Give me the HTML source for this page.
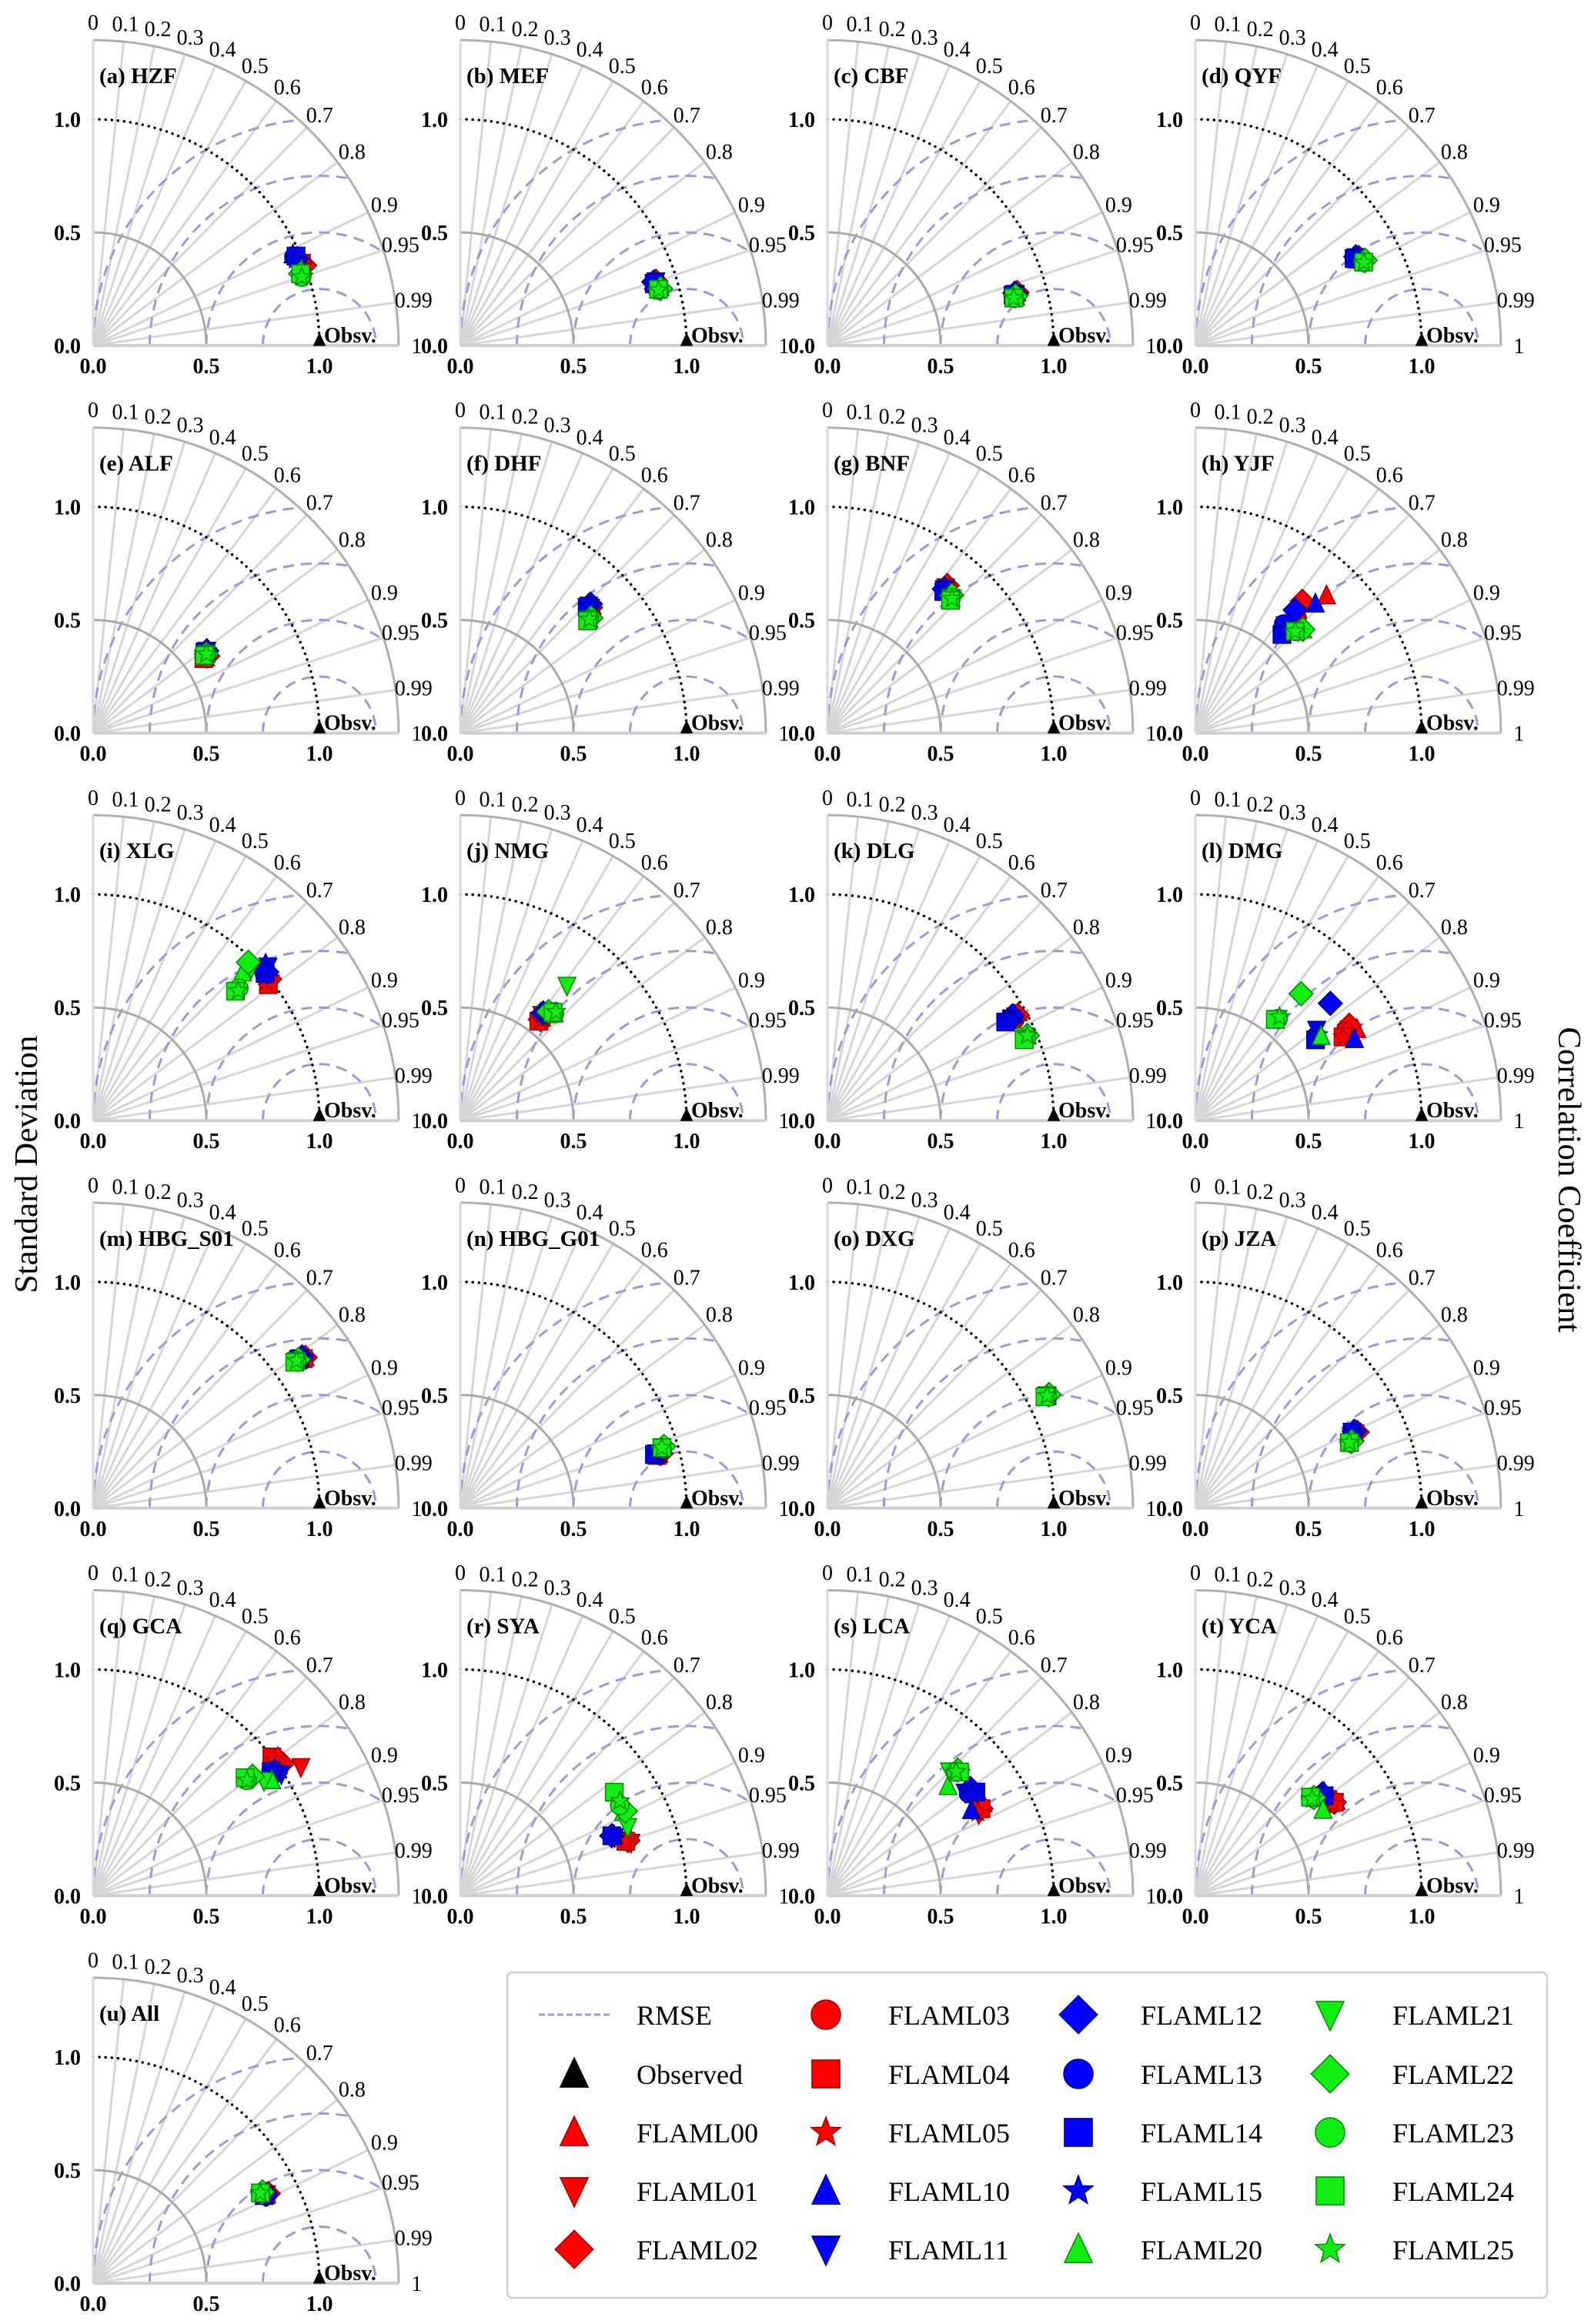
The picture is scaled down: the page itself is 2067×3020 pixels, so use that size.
<!DOCTYPE html>
<html><head><meta charset="utf-8">
<style>
html,body{margin:0;padding:0;background:#fff;}
svg{display:block;font-family:"Liberation Serif",serif;}
</style></head>
<body>
<svg id="fig" xmlns="http://www.w3.org/2000/svg" width="2067" height="3020" viewBox="0 0 2067 3020">
<rect x="0" y="0" width="2067" height="3020" fill="#fff"/>
<text x="0" y="0" font-size="42" text-anchor="middle" transform="translate(48,1513) rotate(-90)" textLength="335" lengthAdjust="spacingAndGlyphs">Standard Deviation</text>
<text x="0" y="0" font-size="42" text-anchor="middle" transform="translate(2025,1533) rotate(90)" textLength="397" lengthAdjust="spacingAndGlyphs">Correlation Coefficient</text>
<g id="panels"></g>
<g id="legend"></g>
</svg>
<script>
const panelNames = ["(a) HZF","(b) MEF","(c) CBF","(d) QYF","(e) ALF","(f) DHF","(g) BNF","(h) YJF","(i) XLG","(j) NMG","(k) DLG","(l) DMG","(m) HBG_S01","(n) HBG_G01","(o) DXG","(p) JZA","(q) GCA","(r) SYA","(s) LCA","(t) YCA","(u) All"];
const modelNames = ["FLAML00","FLAML01","FLAML02","FLAML03","FLAML04","FLAML05","FLAML10","FLAML11","FLAML12","FLAML13","FLAML14","FLAML15","FLAML20","FLAML21","FLAML22","FLAML23","FLAML24","FLAML25"];
const corrTicks = [0,0.1,0.2,0.3,0.4,0.5,0.6,0.7,0.8,0.9,0.95,0.99,1];
const stdTicks = [0.0,0.5,1.0];
const rmseLevels = [0.25,0.5,0.75,1.0];
const stdData = [
[1.00,0.99,1.00,0.99,0.99,0.99, 0.97,0.98,0.98,0.97,0.98,0.97, 0.98,0.97,0.97,0.97,0.97,0.97],
[0.91,0.90,0.91,0.90,0.90,0.90, 0.90,0.91,0.90,0.90,0.90,0.90, 0.92,0.91,0.92,0.91,0.91,0.91],
[0.87,0.86,0.87,0.86,0.86,0.86, 0.86,0.86,0.86,0.86,0.85,0.86, 0.86,0.85,0.86,0.85,0.85,0.85],
[0.82,0.81,0.82,0.81,0.81,0.81, 0.81,0.81,0.81,0.81,0.80,0.81, 0.83,0.83,0.84,0.83,0.83,0.83],
[0.60,0.60,0.61,0.60,0.59,0.60, 0.62,0.62,0.62,0.61,0.61,0.62, 0.61,0.61,0.61,0.61,0.60,0.61],
[0.81,0.80,0.80,0.80,0.79,0.80, 0.80,0.80,0.81,0.80,0.79,0.80, 0.76,0.76,0.77,0.76,0.75,0.76],
[0.83,0.83,0.84,0.83,0.82,0.83, 0.82,0.82,0.82,0.82,0.81,0.82, 0.81,0.81,0.82,0.81,0.80,0.81],
[0.84,0.68,0.75,0.68,0.66,0.67, 0.78,0.62,0.70,0.62,0.58,0.60, 0.66,0.64,0.66,0.63,0.63,0.63],
[1.00,0.99,1.00,0.99,0.98,0.98, 1.03,1.03,1.01,1.00,1.00,1.01, 0.93,0.97,0.98,0.87,0.85,0.86],
[0.58,0.59,0.57,0.57,0.56,0.57, 0.61,0.61,0.60,0.61,0.62,0.61, 0.63,0.76,0.62,0.63,0.63,0.64],
[0.97,0.95,0.96,0.94,0.93,0.94, 0.95,0.93,0.94,0.92,0.90,0.92, 0.96,0.95,0.96,0.95,0.94,0.96],
[0.82,0.79,0.80,0.77,0.75,0.75, 0.79,0.67,0.79,0.65,0.64,0.66, 0.67,0.58,0.73,0.58,0.57,0.59],
[1.15,1.14,1.15,1.14,1.14,1.14, 1.13,1.13,1.14,1.13,1.12,1.13, 1.11,1.11,1.12,1.11,1.10,1.11],
[0.91,0.91,0.92,0.91,0.90,0.91, 0.90,0.90,0.91,0.90,0.89,0.90, 0.93,0.93,0.94,0.93,0.93,0.93],
[1.09,1.09,1.10,1.09,1.09,1.09, 1.09,1.09,1.10,1.09,1.09,1.09, 1.09,1.09,1.10,1.09,1.08,1.09],
[0.78,0.78,0.79,0.78,0.77,0.78, 0.77,0.77,0.78,0.77,0.77,0.77, 0.74,0.74,0.75,0.74,0.74,0.74],
[1.02,1.08,1.02,1.01,1.00,1.00, 0.98,0.99,0.97,0.96,0.96,0.97, 0.94,0.91,0.88,0.85,0.85,0.85],
[0.79,0.79,0.78,0.77,0.77,0.77, 0.73,0.73,0.72,0.72,0.72,0.73, 0.81,0.80,0.82,0.81,0.82,0.82],
[0.80,0.76,0.78,0.77,0.78,0.76, 0.74,0.76,0.79,0.77,0.80,0.78, 0.72,0.77,0.80,0.79,0.80,0.79],
[0.75,0.74,0.74,0.73,0.74,0.73, 0.73,0.72,0.72,0.71,0.72,0.71, 0.68,0.67,0.68,0.67,0.67,0.67],
[0.86,0.86,0.87,0.86,0.86,0.86, 0.85,0.85,0.86,0.85,0.85,0.85, 0.84,0.84,0.85,0.84,0.84,0.84]
];
const corrData = [
[0.925,0.93,0.935,0.93,0.93,0.935, 0.91,0.915,0.92,0.915,0.915,0.92, 0.94,0.945,0.945,0.95,0.945,0.95],
[0.95,0.955,0.95,0.953,0.953,0.955, 0.948,0.95,0.95,0.95,0.952,0.952, 0.96,0.962,0.962,0.963,0.962,0.963],
[0.963,0.965,0.963,0.965,0.965,0.966, 0.963,0.964,0.963,0.964,0.965,0.965, 0.968,0.968,0.967,0.969,0.969,0.969],
[0.88,0.882,0.88,0.882,0.882,0.883, 0.875,0.876,0.875,0.877,0.877,0.877, 0.895,0.896,0.894,0.896,0.896,0.897],
[0.83,0.83,0.83,0.83,0.83,0.83, 0.81,0.81,0.81,0.81,0.81,0.81, 0.82,0.82,0.82,0.82,0.82,0.82],
[0.72,0.72,0.72,0.72,0.72,0.72, 0.71,0.71,0.71,0.71,0.71,0.71, 0.75,0.75,0.75,0.75,0.75,0.75],
[0.63,0.63,0.63,0.63,0.635,0.635, 0.63,0.63,0.63,0.635,0.635,0.635, 0.675,0.675,0.67,0.675,0.68,0.68],
[0.69,0.66,0.63,0.66,0.67,0.67, 0.68,0.64,0.63,0.63,0.66,0.65, 0.72,0.71,0.72,0.70,0.70,0.70],
[0.77,0.79,0.78,0.78,0.79,0.78, 0.74,0.75,0.76,0.755,0.76,0.75, 0.71,0.72,0.70,0.74,0.74,0.745],
[0.62,0.61,0.62,0.63,0.62,0.625, 0.62,0.63,0.61,0.62,0.63,0.62, 0.66,0.62,0.63,0.66,0.65,0.66],
[0.87,0.875,0.875,0.88,0.875,0.875, 0.87,0.875,0.87,0.875,0.875,0.875, 0.92,0.92,0.92,0.925,0.925,0.92],
[0.87,0.86,0.85,0.86,0.87,0.87, 0.89,0.80,0.755,0.82,0.83,0.82, 0.83,0.63,0.64,0.63,0.62,0.63],
[0.815,0.815,0.815,0.815,0.815,0.815, 0.81,0.81,0.81,0.81,0.81,0.81, 0.81,0.81,0.81,0.81,0.81,0.81],
[0.965,0.966,0.965,0.966,0.966,0.966, 0.963,0.963,0.963,0.964,0.964,0.964, 0.957,0.957,0.957,0.958,0.958,0.958],
[0.89,0.89,0.89,0.89,0.89,0.89, 0.89,0.89,0.89,0.89,0.89,0.89, 0.89,0.89,0.89,0.89,0.89,0.89],
[0.905,0.905,0.905,0.905,0.905,0.905, 0.90,0.90,0.90,0.90,0.90,0.90, 0.92,0.92,0.92,0.92,0.92,0.92],
[0.80,0.85,0.82,0.80,0.79,0.80, 0.82,0.84,0.83,0.82,0.82,0.82, 0.84,0.83,0.80,0.80,0.79,0.80],
[0.94,0.955,0.95,0.95,0.95,0.95, 0.93,0.935,0.93,0.93,0.93,0.93, 0.89,0.925,0.89,0.87,0.83,0.86],
[0.86,0.88,0.87,0.87,0.87,0.875, 0.86,0.80,0.80,0.81,0.82,0.82, 0.74,0.70,0.72,0.72,0.73,0.72],
[0.83,0.83,0.83,0.83,0.83,0.83, 0.78,0.79,0.78,0.78,0.79,0.78, 0.83,0.76,0.77,0.76,0.76,0.77],
[0.89,0.89,0.89,0.89,0.89,0.89, 0.89,0.89,0.89,0.89,0.89,0.89, 0.88,0.88,0.88,0.88,0.88,0.88]
];
const shapes = ["tu","td","d","c","s","st"];
const groupColors = [["#ff0000","#a00000"],["#0000ff","#000090"],["#11ee11","#008a00"]];

const NS = "http://www.w3.org/2000/svg";
const U = 294, RMAX = 1.35;
const colX = [121,598,1075,1553];
const rowY0 = 449, rowPitch = 503.6;

function el(tag, attrs, parent){
  const e = document.createElementNS(NS, tag);
  for (const k in attrs) e.setAttribute(k, attrs[k]);
  if (parent) parent.appendChild(e);
  return e;
}
function starPts(cx, cy, R){
  const pts=[]; const r=R*0.42;
  for(let i=0;i<10;i++){const a=-Math.PI/2+i*Math.PI/5;const rr=i%2?r:R;pts.push((cx+rr*Math.cos(a)).toFixed(1)+","+(cy+rr*Math.sin(a)).toFixed(1));}
  return pts.join(" ");
}
function marker(shape, cx, cy, s, fill, stroke, parent){
  let m; const h=s/2;
  if(shape==="tu") m=el("polygon",{points:`${cx},${cy-h*1.1} ${cx-h*0.95},${cy+h*0.9} ${cx+h*0.95},${cy+h*0.9}`},parent);
  else if(shape==="td") m=el("polygon",{points:`${cx},${cy+h*1.1} ${cx-h*0.95},${cy-h*0.9} ${cx+h*0.95},${cy-h*0.9}`},parent);
  else if(shape==="d") m=el("polygon",{points:`${cx},${cy-h*1.3} ${cx+h*1.3},${cy} ${cx},${cy+h*1.3} ${cx-h*1.3},${cy}`},parent);
  else if(shape==="c") m=el("circle",{cx:cx,cy:cy,r:h},parent);
  else if(shape==="s") m=el("rect",{x:cx-h*0.95,y:cy-h*0.95,width:h*1.9,height:h*1.9},parent);
  else if(shape==="st") m=el("polygon",{points:starPts(cx,cy,h*1.05)},parent);
  else if(shape==="obs") m=el("polygon",{points:`${cx},${cy-h*1.1} ${cx-h*0.95},${cy+h*0.9} ${cx+h*0.95},${cy+h*0.9}`},parent);
  m.setAttribute("fill",fill); m.setAttribute("stroke",stroke); m.setAttribute("stroke-width","1.5");
  return m;
}

const panelsG = document.getElementById("panels");
panelNames.forEach((name, p) => {
  const ox = colX[p%4], oy = rowY0 + Math.floor(p/4)*rowPitch;
  const sx = v => ox + v*U, sy = v => oy - v*U;
  const g = el("g",{},panelsG);
  
  
  const cid = "clip"+p;
  const defs = el("defs",{},g);
  const cp = el("clipPath",{id:cid},defs);
  el("path",{d:`M${ox},${oy} L${sx(RMAX)},${oy} A${RMAX*U},${RMAX*U} 0 0 0 ${ox},${sy(RMAX)} Z`},cp);
  const cl = el("g",{stroke:"#d6d6d6","stroke-width":"3"},g);
  
  
  corrTicks.forEach(c=>{
    const a=Math.acos(c);
    el("line",{x1:ox,y1:oy,x2:ox+RMAX*U*Math.cos(a),y2:oy-RMAX*U*Math.sin(a)},cl);
  });
  const rg = el("g",{fill:"none",stroke:"#9a9ade","stroke-width":"3","stroke-dasharray":"14,9","clip-path":`url(#${cid})`},g);
  
  
  rmseLevels.forEach(R=>{
    el("path",{d:`M${sx(1-R)},${oy} A${R*U},${R*U} 0 0 1 ${sx(1+R)},${oy}`},rg);
  });
  el("path",{d:`M${sx(0.5)},${oy} A${0.5*U},${0.5*U} 0 0 0 ${ox},${sy(0.5)}`,fill:"none",stroke:"#aaa","stroke-width":"3"},g);
  el("path",{d:`M${sx(RMAX)},${oy} A${RMAX*U},${RMAX*U} 0 0 0 ${ox},${sy(RMAX)}`,fill:"none",stroke:"#b0b0b0","stroke-width":"3"},g);
  el("path",{d:`M${sx(1)},${oy} A${U},${U} 0 0 0 ${ox},${sy(1)}`,fill:"none",stroke:"#000","stroke-width":"3.5","stroke-dasharray":"0.1,8","stroke-linecap":"round"},g);
  el("line",{x1:ox,y1:oy,x2:sx(RMAX),y2:oy,stroke:"#d0d0d0","stroke-width":"4"},g);
  el("line",{x1:ox,y1:oy,x2:ox,y2:sy(RMAX),stroke:"#d8d8d8","stroke-width":"3"},g);
  corrTicks.forEach(c=>{
    const a=Math.acos(c), r=1.43*U;
    const t=el("text",{x:ox+r*Math.cos(a),y:oy-r*Math.sin(a)+10,"font-size":"28","text-anchor":"middle",fill:"#000"},g);
    t.textContent = String(c);
  });
  stdTicks.forEach(v=>{
    const t1=el("text",{x:ox-16,y:sy(v)+10,"font-size":"28","font-weight":"bold","text-anchor":"end"},g);
    t1.textContent=v.toFixed(1);
    const t2=el("text",{x:sx(v),y:oy+36,"font-size":"28","font-weight":"bold","text-anchor":"middle"},g);
    t2.textContent=v.toFixed(1);
  });
  const title=el("text",{x:ox+8,y:oy-U*1.16,"font-size":"29","font-weight":"bold"},g);
  
  
  title.textContent=name;
  const om = marker("obs", sx(1), oy-7, 15, "#000", "#000", g);
  
  
  const ot=el("text",{x:sx(1)+6,y:oy-4,"font-size":"28","font-weight":"bold"},g);
  ot.textContent="Obsv.";
  const pg = el("g",{},g);
  stdData[p].forEach((s,i)=>{
    const c=corrData[p][i];
    const x=s*c, y=s*Math.sqrt(Math.max(0,1-c*c));
    const col=groupColors[Math.floor(i/6)];
    const m=marker(shapes[i%6], sx(x), sy(y), 24, col[0], col[1], pg);
    
    
  });
});

const lg = document.getElementById("legend");
el("rect",{x:659,y:2563,width:1351,height:423,rx:7,fill:"#fff",stroke:"#cfcfcf","stroke-width":"2.5"},lg);
const legRows=[2618,2695,2771,2847,2923], legMX=[746,1073,1401,1728], legTX=[827,1154,1482,1809];
const legendItems=["RMSE","Observed"].concat(modelNames);
legendItems.forEach((lab,k)=>{
  const col=Math.floor(k/5), row=k%5;
  const mx=legMX[col], my=legRows[row];
  const item=el("g",{},lg);
  
  
  if(lab==="RMSE"){
    el("line",{x1:700,y1:my,x2:792,y2:my,stroke:"#9a9ade","stroke-width":"3","stroke-dasharray":"8,4"},item);
  } else if(lab==="Observed"){
    marker("obs",mx,my,38,"#000","#000",item);
  } else {
    const i=k-2; const c=groupColors[Math.floor(i/6)];
    marker(shapes[i%6],mx,my,38,c[0],c[1],item);
  }
  const t=el("text",{x:legTX[col],y:my+13,"font-size":"36"},item);
  t.textContent=lab;
});
</script>
</body></html>
